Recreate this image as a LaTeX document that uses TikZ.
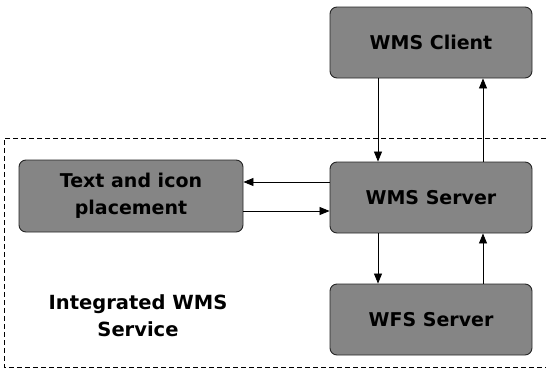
\documentclass[tikz,border=0pt]{standalone}
\usepackage{fontspec}
\setmainfont{DejaVu Sans}
\usetikzlibrary{arrows.meta}
\definecolor{boxgray}{HTML}{858585}
\begin{document}
\begin{tikzpicture}[x=1pt,y=-1pt,
  procbox/.style={draw=black!85,line width=0.9pt,fill=boxgray,rounded corners=7pt,
    minimum width=202pt,minimum height=71pt,inner sep=0pt,
    font=\fontsize{19}{27}\selectfont\bfseries,align=center,text=black},
  flow/.style={draw=black,line width=0.8pt,-{Triangle[length=10pt,width=8pt]}}]
  \useasboundingbox (0,0) rectangle (546,375);
  % dashed frame of the integrated service
  \draw[dashed,line width=0.8pt,dash pattern=on 5pt off 3pt] (546,138) -- (4,138) -- (4,367) -- (546,367);
  % processing components
  \node[procbox] (client) at (431,42.5) {WMS Client};
  \node[procbox] (server) at (431,197.5) {WMS Server};
  \node[procbox] (wfs) at (431,319.5) {WFS Server};
  \node[procbox,minimum width=224pt,minimum height=72pt] (place) at (131,196) {Text and icon\\placement};
  \node[font=\fontsize{19.5}{27}\selectfont\bfseries,align=center] (label) at (138,316) {Integrated WMS\\Service};
  % requests and responses
  \draw[flow] (client.south -| 378,0) -- (server.north -| 378,0);
  \draw[flow] (server.north -| 483,0) -- (client.south -| 483,0);
  \draw[flow] (server.south -| 378,0) -- (wfs.north -| 378,0);
  \draw[flow] (wfs.north -| 483,0) -- (server.south -| 483,0);
  \draw[flow] (server.west |- 0,182) -- (place.east |- 0,182);
  \draw[flow] (place.east |- 0,211) -- (server.west |- 0,211);
\end{tikzpicture}
\end{document}
